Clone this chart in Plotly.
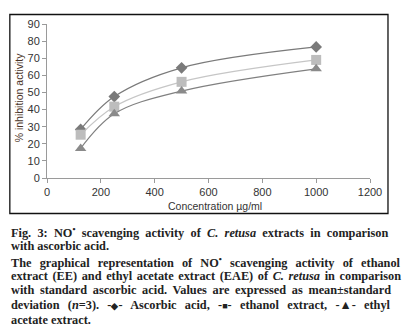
import plotly.graph_objects as go

# Concentrations (µg/ml) and % inhibition for each sample
concentration = [125, 250, 500, 1000]
ascorbic_acid = [28.4, 47.6, 64.4, 76.6]
ethanol_extract = [25.3, 41.7, 56.2, 69.0]
ethyl_acetate_extract = [17.3, 37.5, 50.8, 63.8]

x_ticks = [0, 200, 400, 600, 800, 1000, 1200]
y_ticks = [0, 10, 20, 30, 40, 50, 60, 70, 80, 90]

# Caption lines with the extra word spacing that justifies each one
caption_lines = [
    ("Fig. 3: NO<sup>•</sup> scavenging activity of <i>C. retusa</i> extracts in comparison", 3.2),
    ("with ascorbic acid.", 0),
    ("The graphical representation of NO<sup>•</sup> scavenging activity of ethanol", 5.1),
    ("extract (EE) and ethyl acetate extract (EAE) of <i>C. retusa</i> in comparison", 1.55),
    ("with standard ascorbic acid. Values are expressed as mean±standard", 2.6),
    ("deviation (<i>n</i>=3). -<span style='font-size:9px'>◆</span>- Ascorbic acid, "
     "-<span style='font-size:9px'>■</span>- ethanol extract, -▲- ethyl", 5.2),
    ("acetate extract.", 0),
]

W, H = 403, 333
L, R, T, B = 46.7, 33, 24, 155
PW, PH = W - L - R, H - T - B


def px_x(px):
    return (px - L) / PW


def px_y(py):
    return (H - B - py) / PH


fig = go.Figure()

series = [
    (ascorbic_acid, "diamond", 9, "#7a7a7a", "#7a7a7a"),
    (ethanol_extract, "square", 10, "#bdbdbd", "#c6c6c6"),
    (ethyl_acetate_extract, "triangle-up", 10, "#8a8a8a", "#808080"),
]
for vals, sym, size, mcol, lcol in series:
    fig.add_trace(go.Scatter(
        x=concentration, y=vals, mode="lines+markers",
        line=dict(color=lcol, width=1.2, shape="spline", smoothing=1),
        marker=dict(symbol=sym, size=size, color=mcol),
        showlegend=False,
    ))

axis_common = dict(
    showgrid=False, zeroline=False, showline=True, linecolor="#9a9a9a",
    linewidth=1, ticks="outside", ticklen=4, tickcolor="#9a9a9a",
    tickfont=dict(family="Liberation Sans, Arial", size=11, color="#333333"),
)
fig.update_xaxes(range=[0, 1200], tickvals=x_ticks, **axis_common)
fig.update_yaxes(range=[0, 90], tickvals=y_ticks, **axis_common)

annotations = [
    dict(text="Concentration µg/ml", x=px_x(215), y=px_y(206), xref="paper", yref="paper",
         showarrow=False, xanchor="center", yanchor="middle",
         font=dict(family="Liberation Sans, Arial", size=10.5, color="#333333")),
    dict(text="% inhibition activity", x=px_x(19), y=px_y(98), xref="paper", yref="paper",
         showarrow=False, textangle=-90, xanchor="center", yanchor="middle",
         font=dict(family="Liberation Sans, Arial", size=10.5, color="#4a3326")),
]
line_y = [232, 246, 262, 276, 290, 305, 320]
for (txt, spacing), yy in zip(caption_lines, line_y):
    annotations.append(dict(
        text=f"<span style='word-spacing:{spacing}px'><b>{txt}</b></span>",
        x=px_x(9), y=px_y(yy), xref="paper", yref="paper",
        showarrow=False, xanchor="left", yanchor="middle",
        font=dict(family="Liberation Serif, Times New Roman", size=12.3, color="#222222"),
    ))

fig.update_layout(
    width=W, height=H,
    margin=dict(l=L, r=R, t=T, b=B),
    paper_bgcolor="white", plot_bgcolor="white",
    annotations=annotations,
    shapes=[dict(type="rect", xref="paper", yref="paper",
                 x0=px_x(9.5), x1=px_x(388), y0=px_y(213.5), y1=px_y(14.5),
                 line=dict(color="#111111", width=1.3), layer="below")],
)

fig.write_html("out.html")
